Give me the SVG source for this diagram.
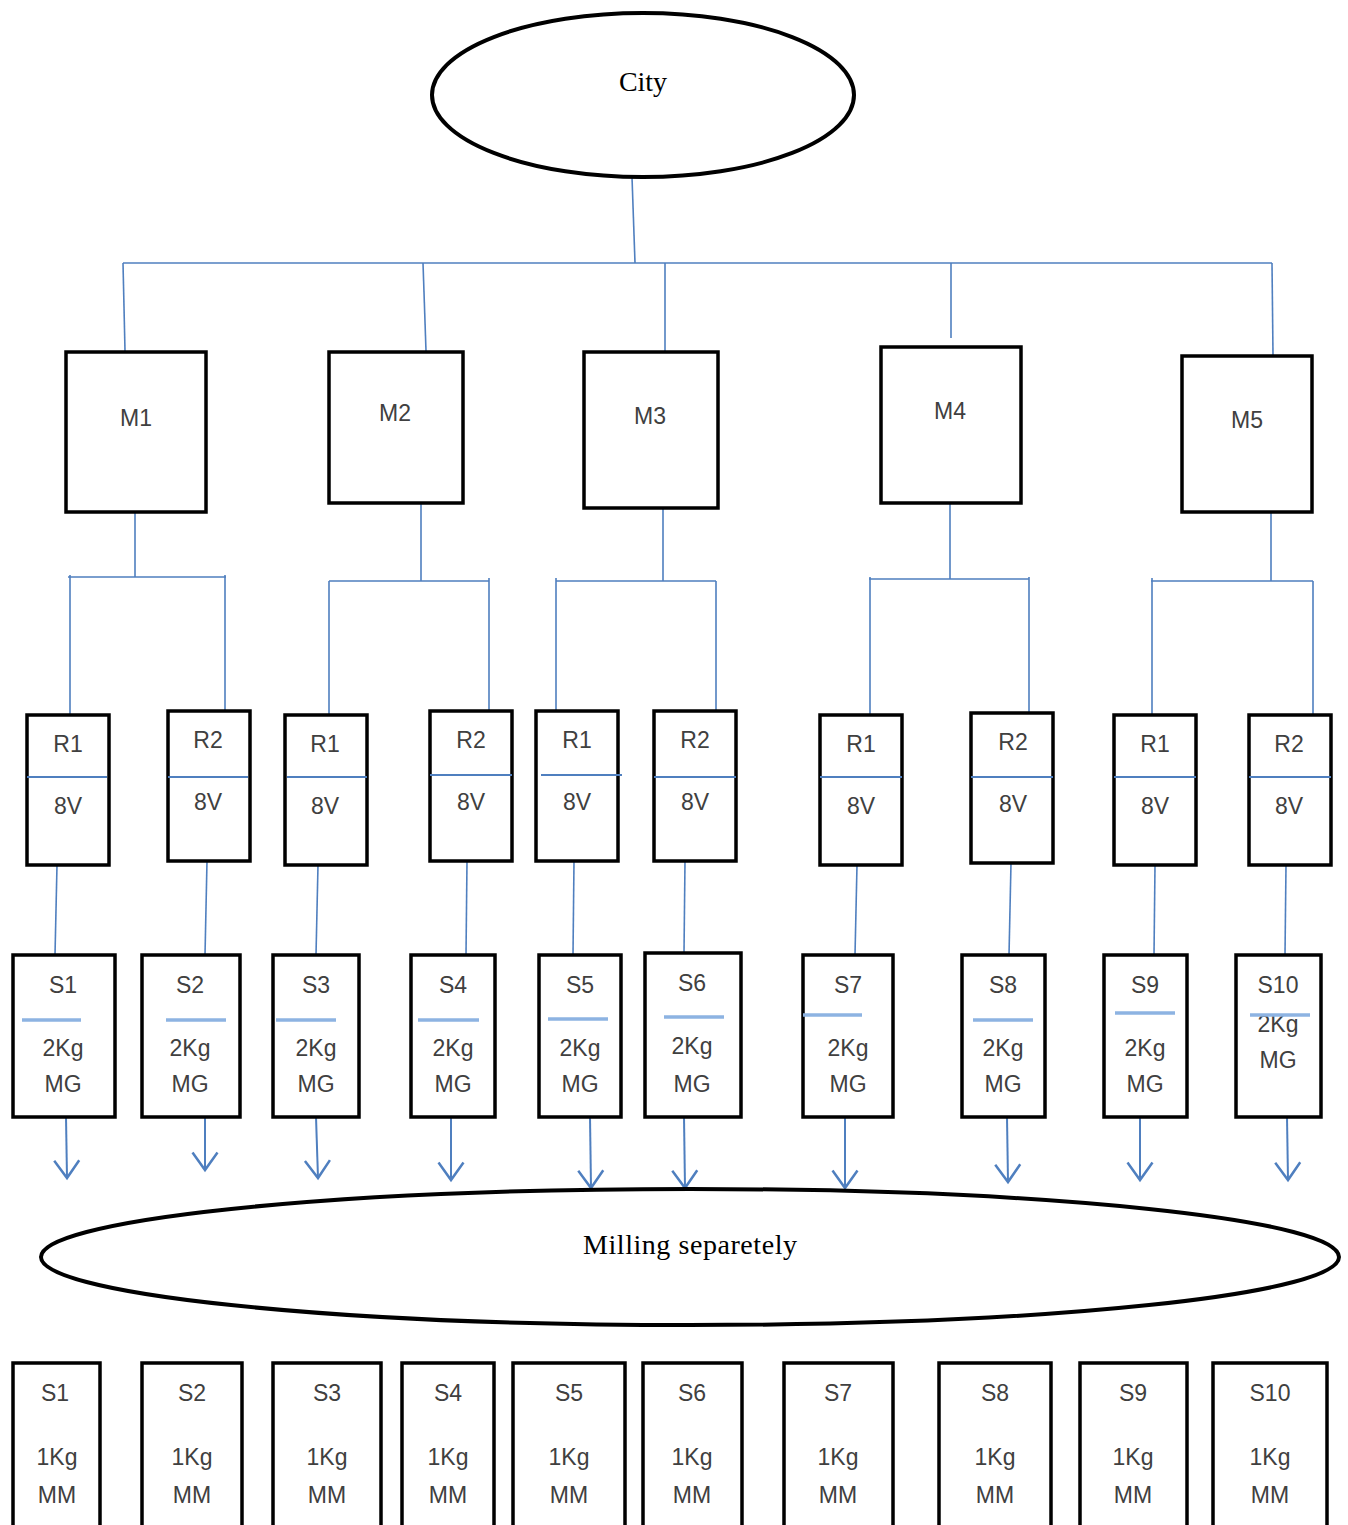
<svg xmlns="http://www.w3.org/2000/svg" width="1348" height="1525" viewBox="0 0 1348 1525">
<defs>
<style>
.bg{fill:#ffffff}
.box{fill:#ffffff;stroke:#000000;stroke-width:3.5}
.ell{fill:#ffffff;stroke:#000000;stroke-width:4}
.con{fill:none;stroke:#4f7fbf;stroke-width:1.6}
.arr{fill:none;stroke:#4f7fbf;stroke-width:2}
.rdiv{stroke:#4f7fbf;stroke-width:2}
.sdiv{stroke:#8db3e2;stroke-width:3.5}
.lbl{font-family:"Liberation Sans",Arial,sans-serif;font-size:23px;fill:#404040;text-anchor:middle}
.ser{font-family:"Liberation Serif","Times New Roman",serif;font-size:28px;fill:#000000;text-anchor:middle}
</style>
<marker id="ah" markerUnits="userSpaceOnUse" markerWidth="30" markerHeight="30" viewBox="-16 -12 20 24" refX="0" refY="0" orient="auto">
<path d="M-14,-10 L0,0 L-14,10" fill="none" stroke="#4f7fbf" stroke-width="2"/>
</marker>
</defs>
<rect class="bg" x="0" y="0" width="1348" height="1525"/>

<g id="connectors">
<path class="con" d="M632,177 L635,263"/>
<path class="con" d="M123,263 L1272,263"/>
<path class="con" d="M123,263 L125,351"/>
<path class="con" d="M423,263 L426,351"/>
<path class="con" d="M665,263 L665,351"/>
<path class="con" d="M951,263 L951,338"/>
<path class="con" d="M1272,263 L1273,355"/>
<path class="con" d="M135,512 L135,577 M68,577 L226,577 M70,575 L70,715 M225,575 L225,711"/>
<path class="con" d="M421,503 L421,581 M329,581 L489,581 M329,581 L329,715 M489,578 L489,711"/>
<path class="con" d="M663,508 L663,581 M556,581 L716,581 M556,578 L556,711 M716,581 L716,711"/>
<path class="con" d="M950,503 L950,579 M869,579 L1029,579 M870,577 L870,715 M1029,577 L1029,713"/>
<path class="con" d="M1271,512 L1271,581 M1151,581 L1313,581 M1152,578 L1152,715 M1313,581 L1313,715"/>
<path class="con" d="M57,865 L55,955"/>
<path class="con" d="M207,861 L205,955"/>
<path class="con" d="M318,865 L316,955"/>
<path class="con" d="M467,861 L466,955"/>
<path class="con" d="M574,861 L573,955"/>
<path class="con" d="M685,861 L684,953"/>
<path class="con" d="M857,865 L855,955"/>
<path class="con" d="M1011,863 L1009,955"/>
<path class="con" d="M1155,865 L1154,955"/>
<path class="con" d="M1286,865 L1285,955"/>
<path class="arr" marker-end="url(#ah)" d="M66,1117 L67,1178"/>
<path class="arr" marker-end="url(#ah)" d="M205,1117 L205,1170"/>
<path class="arr" marker-end="url(#ah)" d="M316,1117 L318,1178"/>
<path class="arr" marker-end="url(#ah)" d="M451,1117 L451,1180"/>
<path class="arr" marker-end="url(#ah)" d="M590,1117 L591,1188"/>
<path class="arr" marker-end="url(#ah)" d="M684,1117 L685,1188"/>
<path class="arr" marker-end="url(#ah)" d="M845,1117 L845,1188"/>
<path class="arr" marker-end="url(#ah)" d="M1007,1117 L1008,1182"/>
<path class="arr" marker-end="url(#ah)" d="M1140,1117 L1140,1180"/>
<path class="arr" marker-end="url(#ah)" d="M1287,1117 L1288,1180"/>
</g>

<g id="city">
<ellipse class="ell" cx="643" cy="95" rx="211" ry="82"/>
<text class="ser" x="643" y="91">City</text>
</g>

<g id="M1"><rect class="box" x="66" y="352" width="140" height="160"/><text class="lbl" x="136" y="426">M1</text></g>
<g id="M2"><rect class="box" x="329" y="352" width="134" height="151"/><text class="lbl" x="395" y="421">M2</text></g>
<g id="M3"><rect class="box" x="584" y="352" width="134" height="156"/><text class="lbl" x="650" y="424">M3</text></g>
<g id="M4"><rect class="box" x="881" y="347" width="140" height="156"/><text class="lbl" x="950" y="419">M4</text></g>
<g id="M5"><rect class="box" x="1182" y="356" width="130" height="156"/><text class="lbl" x="1247" y="428">M5</text></g>

<g id="M1-R1"><rect class="box" x="27" y="715" width="82" height="150"/><line class="rdiv" x1="27" y1="777" x2="107" y2="777"/><text class="lbl" x="68" y="752">R1</text><text class="lbl" x="68" y="814">8V</text></g>
<g id="M1-R2"><rect class="box" x="168" y="711" width="82" height="150"/><line class="rdiv" x1="168" y1="777" x2="248" y2="777"/><text class="lbl" x="208" y="748">R2</text><text class="lbl" x="208" y="810">8V</text></g>
<g id="M2-R1"><rect class="box" x="285" y="715" width="82" height="150"/><line class="rdiv" x1="287" y1="777" x2="367" y2="777"/><text class="lbl" x="325" y="752">R1</text><text class="lbl" x="325" y="814">8V</text></g>
<g id="M2-R2"><rect class="box" x="430" y="711" width="82" height="150"/><line class="rdiv" x1="430" y1="775" x2="512" y2="775"/><text class="lbl" x="471" y="748">R2</text><text class="lbl" x="471" y="810">8V</text></g>
<g id="M3-R1"><rect class="box" x="536" y="711" width="82" height="150"/><line class="rdiv" x1="541" y1="775" x2="622" y2="775"/><text class="lbl" x="577" y="748">R1</text><text class="lbl" x="577" y="810">8V</text></g>
<g id="M3-R2"><rect class="box" x="654" y="711" width="82" height="150"/><line class="rdiv" x1="654" y1="777" x2="736" y2="777"/><text class="lbl" x="695" y="748">R2</text><text class="lbl" x="695" y="810">8V</text></g>
<g id="M4-R1"><rect class="box" x="820" y="715" width="82" height="150"/><line class="rdiv" x1="820" y1="777" x2="902" y2="777"/><text class="lbl" x="861" y="752">R1</text><text class="lbl" x="861" y="814">8V</text></g>
<g id="M4-R2"><rect class="box" x="971" y="713" width="82" height="150"/><line class="rdiv" x1="971" y1="777" x2="1053" y2="777"/><text class="lbl" x="1013" y="750">R2</text><text class="lbl" x="1013" y="812">8V</text></g>
<g id="M5-R1"><rect class="box" x="1114" y="715" width="82" height="150"/><line class="rdiv" x1="1114" y1="777" x2="1196" y2="777"/><text class="lbl" x="1155" y="752">R1</text><text class="lbl" x="1155" y="814">8V</text></g>
<g id="M5-R2"><rect class="box" x="1249" y="715" width="82" height="150"/><line class="rdiv" x1="1249" y1="777" x2="1331" y2="777"/><text class="lbl" x="1289" y="752">R2</text><text class="lbl" x="1289" y="814">8V</text></g>

<g id="S1"><rect class="box" x="13" y="955" width="102" height="162"/><line class="sdiv" x1="22" y1="1020" x2="81" y2="1020"/><text class="lbl" x="63" y="993">S1</text><text class="lbl" x="63" y="1056">2Kg</text><text class="lbl" x="63" y="1092">MG</text></g>
<g id="S2"><rect class="box" x="142" y="955" width="98" height="162"/><line class="sdiv" x1="166" y1="1020" x2="226" y2="1020"/><text class="lbl" x="190" y="993">S2</text><text class="lbl" x="190" y="1056">2Kg</text><text class="lbl" x="190" y="1092">MG</text></g>
<g id="S3"><rect class="box" x="273" y="955" width="86" height="162"/><line class="sdiv" x1="276" y1="1020" x2="336" y2="1020"/><text class="lbl" x="316" y="993">S3</text><text class="lbl" x="316" y="1056">2Kg</text><text class="lbl" x="316" y="1092">MG</text></g>
<g id="S4"><rect class="box" x="411" y="955" width="84" height="162"/><line class="sdiv" x1="418" y1="1020" x2="479" y2="1020"/><text class="lbl" x="453" y="993">S4</text><text class="lbl" x="453" y="1056">2Kg</text><text class="lbl" x="453" y="1092">MG</text></g>
<g id="S5"><rect class="box" x="539" y="955" width="82" height="162"/><line class="sdiv" x1="548" y1="1019" x2="608" y2="1019"/><text class="lbl" x="580" y="993">S5</text><text class="lbl" x="580" y="1056">2Kg</text><text class="lbl" x="580" y="1092">MG</text></g>
<g id="S6"><rect class="box" x="645" y="953" width="96" height="164"/><line class="sdiv" x1="664" y1="1017" x2="724" y2="1017"/><text class="lbl" x="692" y="991">S6</text><text class="lbl" x="692" y="1054">2Kg</text><text class="lbl" x="692" y="1092">MG</text></g>
<g id="S7"><rect class="box" x="803" y="955" width="90" height="162"/><line class="sdiv" x1="803" y1="1015" x2="862" y2="1015"/><text class="lbl" x="848" y="993">S7</text><text class="lbl" x="848" y="1056">2Kg</text><text class="lbl" x="848" y="1092">MG</text></g>
<g id="S8"><rect class="box" x="962" y="955" width="83" height="162"/><line class="sdiv" x1="973" y1="1020" x2="1033" y2="1020"/><text class="lbl" x="1003" y="993">S8</text><text class="lbl" x="1003" y="1056">2Kg</text><text class="lbl" x="1003" y="1092">MG</text></g>
<g id="S9"><rect class="box" x="1104" y="955" width="83" height="162"/><line class="sdiv" x1="1115" y1="1013" x2="1175" y2="1013"/><text class="lbl" x="1145" y="993">S9</text><text class="lbl" x="1145" y="1056">2Kg</text><text class="lbl" x="1145" y="1092">MG</text></g>
<g id="S10"><rect class="box" x="1236" y="955" width="85" height="162"/><text class="lbl" x="1278" y="993">S10</text><text class="lbl" x="1278" y="1032">2Kg</text><line class="sdiv" x1="1250" y1="1015" x2="1310" y2="1015"/><text class="lbl" x="1278" y="1068">MG</text></g>

<g id="milling">
<ellipse class="ell" cx="690" cy="1257" rx="649" ry="68"/>
<text class="ser" x="690" y="1254" textLength="214" lengthAdjust="spacing">Milling separetely</text>
</g>

<g id="B1"><rect class="box" x="13" y="1363" width="87" height="180"/><text class="lbl" x="55" y="1401">S1</text><text class="lbl" x="57" y="1465">1Kg</text><text class="lbl" x="57" y="1503">MM</text></g>
<g id="B2"><rect class="box" x="142" y="1363" width="100" height="180"/><text class="lbl" x="192" y="1401">S2</text><text class="lbl" x="192" y="1465">1Kg</text><text class="lbl" x="192" y="1503">MM</text></g>
<g id="B3"><rect class="box" x="273" y="1363" width="108" height="180"/><text class="lbl" x="327" y="1401">S3</text><text class="lbl" x="327" y="1465">1Kg</text><text class="lbl" x="327" y="1503">MM</text></g>
<g id="B4"><rect class="box" x="402" y="1363" width="92" height="180"/><text class="lbl" x="448" y="1401">S4</text><text class="lbl" x="448" y="1465">1Kg</text><text class="lbl" x="448" y="1503">MM</text></g>
<g id="B5"><rect class="box" x="513" y="1363" width="112" height="180"/><text class="lbl" x="569" y="1401">S5</text><text class="lbl" x="569" y="1465">1Kg</text><text class="lbl" x="569" y="1503">MM</text></g>
<g id="B6"><rect class="box" x="643" y="1363" width="99" height="180"/><text class="lbl" x="692" y="1401">S6</text><text class="lbl" x="692" y="1465">1Kg</text><text class="lbl" x="692" y="1503">MM</text></g>
<g id="B7"><rect class="box" x="784" y="1363" width="109" height="180"/><text class="lbl" x="838" y="1401">S7</text><text class="lbl" x="838" y="1465">1Kg</text><text class="lbl" x="838" y="1503">MM</text></g>
<g id="B8"><rect class="box" x="939" y="1363" width="112" height="180"/><text class="lbl" x="995" y="1401">S8</text><text class="lbl" x="995" y="1465">1Kg</text><text class="lbl" x="995" y="1503">MM</text></g>
<g id="B9"><rect class="box" x="1080" y="1363" width="107" height="180"/><text class="lbl" x="1133" y="1401">S9</text><text class="lbl" x="1133" y="1465">1Kg</text><text class="lbl" x="1133" y="1503">MM</text></g>
<g id="B10"><rect class="box" x="1213" y="1363" width="114" height="180"/><text class="lbl" x="1270" y="1401">S10</text><text class="lbl" x="1270" y="1465">1Kg</text><text class="lbl" x="1270" y="1503">MM</text></g>
</svg>
